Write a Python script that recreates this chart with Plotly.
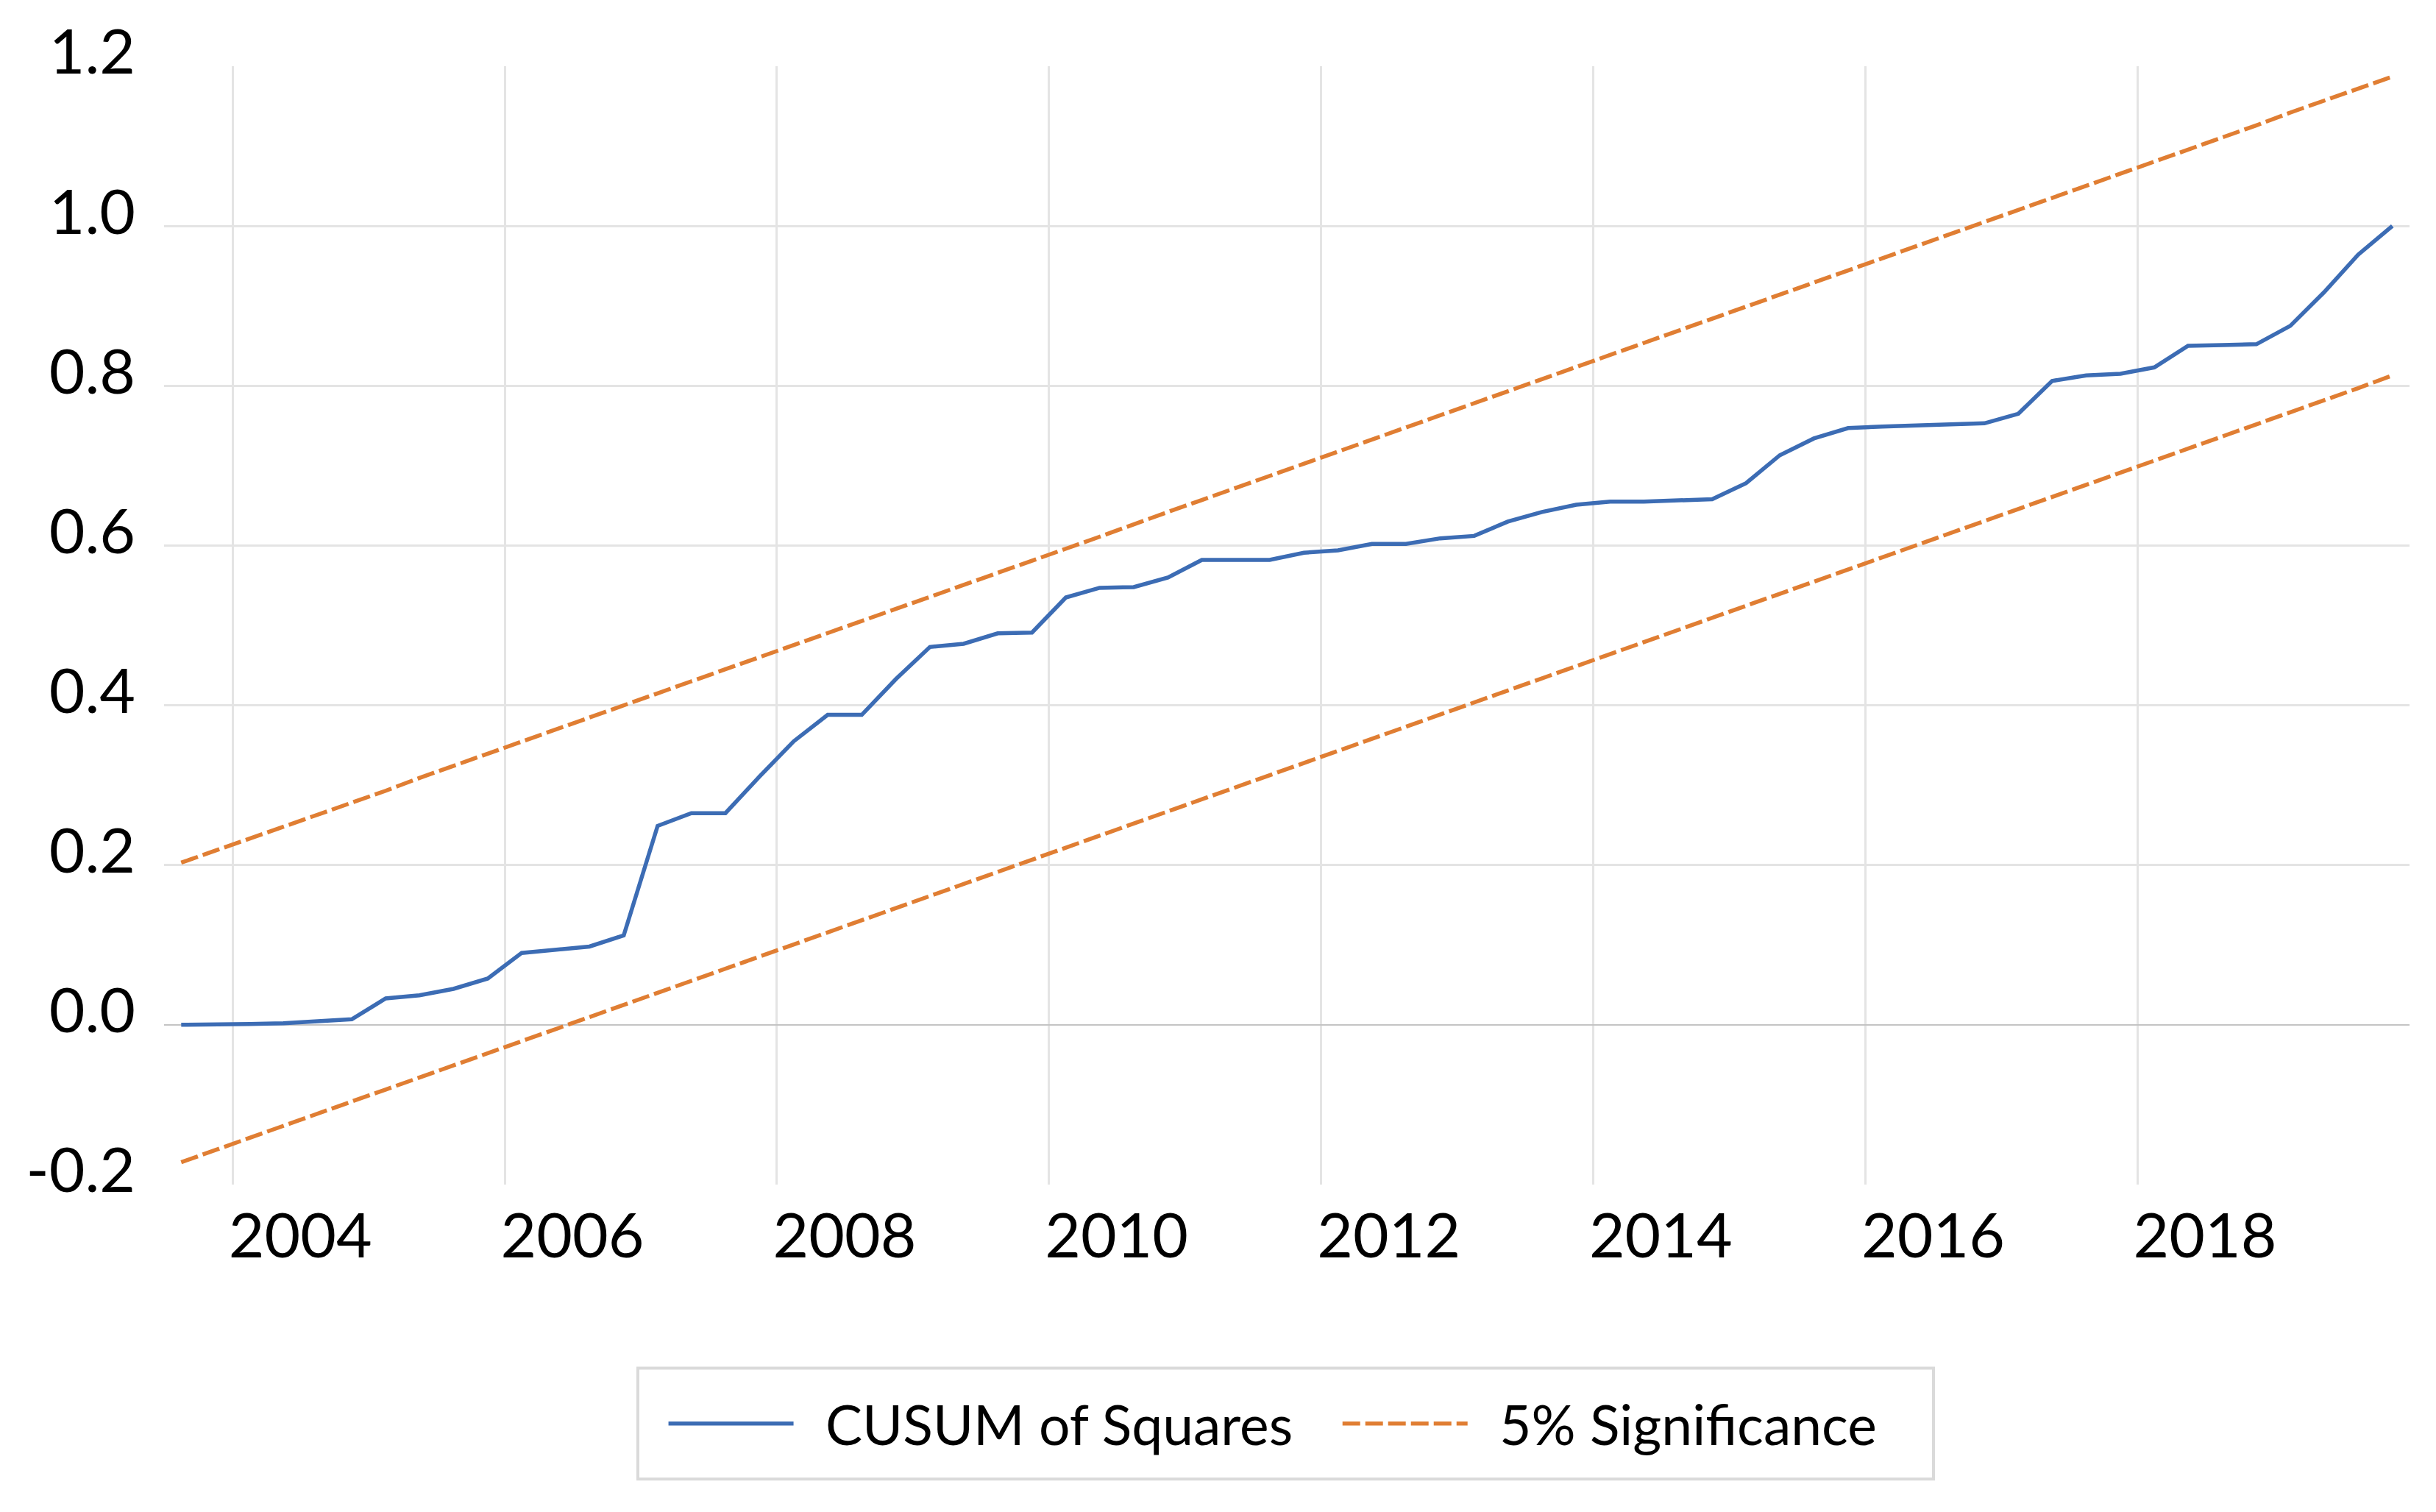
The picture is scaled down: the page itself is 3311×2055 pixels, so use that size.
import plotly.graph_objects as go
import pandas as pd

# Quarterly observations 2003Q3 .. 2019Q4 (66 quarters)
quarters = pd.period_range("2003Q3", "2019Q4", freq="Q").start_time.strftime("%Y-%m-%d").tolist()

cusum_sq = [0.000, 0.000, 0.001, 0.002, 0.005, 0.007, 0.033, 0.037, 0.045, 0.058,
            0.090, 0.094, 0.098, 0.112, 0.249, 0.265, 0.265, 0.311, 0.355, 0.388,
            0.388, 0.433, 0.473, 0.477, 0.490, 0.491, 0.535, 0.547, 0.548, 0.560,
            0.582, 0.582, 0.582, 0.591, 0.594, 0.602, 0.602, 0.609, 0.612, 0.630,
            0.642, 0.651, 0.655, 0.655, 0.657, 0.658, 0.678, 0.713, 0.734, 0.747,
            0.749, 0.750, 0.752, 0.753, 0.765, 0.806, 0.813, 0.815, 0.823, 0.850,
            0.851, 0.852, 0.875, 0.917, 0.964, 1.000]

upper_5 = [0.203, 0.218, 0.233, 0.248, 0.263, 0.278, 0.293, 0.309, 0.324, 0.339,
           0.354, 0.369, 0.384, 0.399, 0.415, 0.430, 0.445, 0.460, 0.475, 0.490,
           0.505, 0.521, 0.536, 0.551, 0.566, 0.581, 0.596, 0.611, 0.627, 0.642,
           0.657, 0.672, 0.687, 0.702, 0.718, 0.733, 0.748, 0.763, 0.778, 0.793,
           0.808, 0.823, 0.839, 0.854, 0.869, 0.884, 0.899, 0.914, 0.930, 0.945,
           0.960, 0.975, 0.990, 1.005, 1.020, 1.036, 1.051, 1.066, 1.081, 1.096,
           1.111, 1.126, 1.142, 1.157, 1.172, 1.187]

lower_5 = [-0.172, -0.157, -0.142, -0.127, -0.111, -0.096, -0.081, -0.066, -0.051, -0.036,
           -0.021, -0.005, 0.010, 0.025, 0.040, 0.055, 0.070, 0.086, 0.101, 0.116,
           0.131, 0.146, 0.161, 0.176, 0.192, 0.207, 0.222, 0.237, 0.252, 0.267,
           0.282, 0.298, 0.313, 0.328, 0.343, 0.358, 0.373, 0.388, 0.404, 0.419,
           0.434, 0.449, 0.464, 0.479, 0.494, 0.510, 0.525, 0.540, 0.555, 0.570,
           0.585, 0.600, 0.616, 0.631, 0.646, 0.661, 0.676, 0.691, 0.707, 0.722,
           0.737, 0.752, 0.767, 0.782, 0.797, 0.813]

year_labels = ["2004", "2006", "2008", "2010", "2012", "2014", "2016", "2018"]
year_label_pos = ["2004-07-01", "2006-07-01", "2008-07-01", "2010-07-01",
                  "2012-07-01", "2014-07-01", "2016-07-01", "2018-07-01"]
year_grid_pos = ["2004-01-01", "2006-01-01", "2008-01-01", "2010-01-01",
                 "2012-01-01", "2014-01-01", "2016-01-01", "2018-01-01"]

y_ticks = [-0.2, 0.0, 0.2, 0.4, 0.6, 0.8, 1.0, 1.2]
y_ticktext = ["-0.2", "0.0", "0.2", "0.4", "0.6", "0.8", "1.0", "1.2"]
y_grid = [0.2, 0.4, 0.6, 0.8, 1.0]

series_names = ["CUSUM of Squares", "5% Significance"]

BLUE = "#3C6CB4"
ORANGE = "#E07E33"
GRID = "#E4E4E4"
NB = "\u00a0"

fig = go.Figure()
fig.add_trace(go.Scatter(x=quarters, y=cusum_sq, mode="lines",
                         name=NB * 2 + series_names[0] + NB * 3,
                         line=dict(color=BLUE, width=5.5),
                         xperiod="M3", xperiodalignment="middle"))
fig.add_trace(go.Scatter(x=quarters, y=upper_5, mode="lines",
                         name=NB * 2 + series_names[1],
                         legendgroup="sig",
                         line=dict(color=ORANGE, width=5.5, dash="24px,7px"),
                         xperiod="M3", xperiodalignment="middle"))
fig.add_trace(go.Scatter(x=quarters, y=lower_5, mode="lines",
                         name=series_names[1],
                         legendgroup="sig", showlegend=False,
                         line=dict(color=ORANGE, width=5.5, dash="24px,7px"),
                         xperiod="M3", xperiodalignment="middle"))

fig.update_layout(
    width=3311, height=2055,
    margin=dict(l=223, r=36, t=90, b=445),
    plot_bgcolor="white", paper_bgcolor="white",
    font=dict(family="Lato", size=84, color="black"),
    showlegend=True,
    legend=dict(orientation="h", x=0.4938, xanchor="center",
                yref="container", y=0.0584, yanchor="middle",
                font=dict(family="Lato", size=75, color="black"),
                bgcolor="rgba(0,0,0,0)", borderwidth=0,
                itemwidth=170),
    shapes=[dict(type="rect", xref="paper", yref="paper",
                 x0=0.2110, x1=0.7880, y0=-0.2634, y1=-0.1641,
                 line=dict(color="#DADADA", width=4), fillcolor="rgba(0,0,0,0)")],
)

fig.update_xaxes(
    type="date", range=["2003-07-01", "2020-01-01"],
    tickmode="array", tickvals=year_label_pos, ticktext=year_labels,
    showgrid=False, zeroline=False, showline=False, ticks="",
    ticklabelstandoff=14,
    minor=dict(tickmode="array", tickvals=year_grid_pos, showgrid=True,
               gridcolor=GRID, gridwidth=3, ticks=""),
)
fig.update_yaxes(
    range=[-0.2, 1.2],
    tickmode="array", tickvals=y_ticks, ticktext=y_ticktext,
    showgrid=False, showline=False, ticks="",
    zeroline=True, zerolinecolor="#C4C4C4", zerolinewidth=2,
    ticklabelstandoff=38, ticklabelshift=-19,
    minor=dict(tickmode="array", tickvals=y_grid, showgrid=True,
               gridcolor=GRID, gridwidth=3, ticks=""),
)

fig.write_html("out.html", config={"displayModeBar": False},
               post_script="document.body.style.margin='0px';")
